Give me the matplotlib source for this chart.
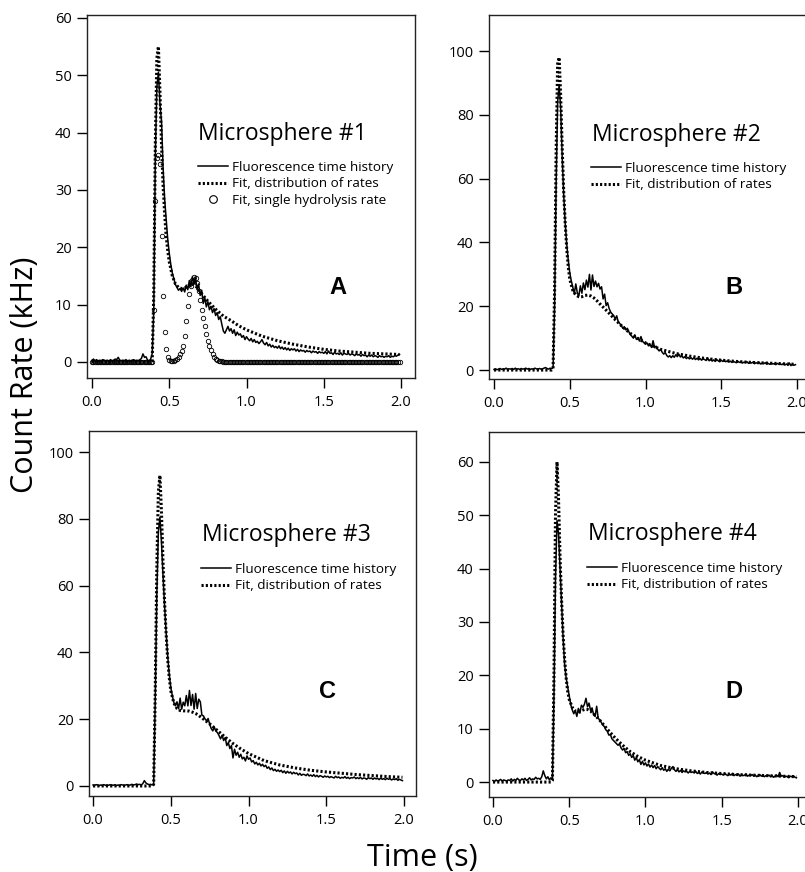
import matplotlib
matplotlib.use("Agg")
import matplotlib.pyplot as plt
from matplotlib.lines import Line2D
import numpy as np

plt.rcParams['font.family'] = ['Open Sans', 'DejaVu Sans']

# measured traces are binned at 10 ms, 0.00 .. 1.99 s
t_step = 0.01
n_samples = 200

# sample times of the fitted curves
fit_t = [0.00, 0.10, 0.20, 0.30, 0.38, 0.39, 0.40, 0.41, 0.42, 0.43, 0.44, 0.45,
         0.46, 0.47, 0.48, 0.49, 0.50, 0.52, 0.54, 0.56, 0.58, 0.60, 0.62, 0.64,
         0.66, 0.68, 0.70, 0.75, 0.80, 0.85, 0.90, 0.95, 1.00, 1.10, 1.20, 1.30,
         1.40, 1.50, 1.60, 1.70, 1.80, 1.90, 1.99]

# ---- Microsphere #1 ----
a_data = [0.3, 0.5, 0.2, 0.4, 0.1, 0.3, 0.2, 0.4, 0.3, 0.2,
          0.3, 0.1, 0.4, 0.2, 0.3, 0.5, 0.4, 0.8, 0.3, 0.2,
          0.3, 0.2, 0.4, 0.1, 0.3, 0.2, 0.3, 0.4, 0.2, 0.3,
          0.2, 0.4, 0.6, 1.4, 0.8, 0.9, 0.3, 0.2, 0.5, 1.5,
          9.0, 36.0, 48.0, 50.5, 45.0, 42.0, 34.0, 28.5, 25.0, 21.5,
          19.0, 17.0, 15.5, 14.5, 13.5, 13.0, 12.5, 12.8, 12.3, 12.9,
          12.2, 13.4, 12.6, 14.2, 13.1, 14.9, 13.6, 14.7, 12.6, 13.6,
          11.6, 12.5, 10.2, 11.2, 9.6, 10.5, 9.1, 9.7, 8.6, 9.3,
          8.1, 8.6, 7.4, 7.9, 6.6, 5.4, 5.0, 5.6, 6.2, 5.4,
          5.8, 5.0, 5.6, 4.6, 5.2, 4.7, 4.9, 4.3, 4.6, 3.9,
          4.4, 4.0, 3.7, 4.1, 3.5, 3.9, 3.4, 3.6, 3.2, 3.5,
          3.9, 3.3, 3.0, 3.4, 2.8, 3.1, 2.6, 2.9, 2.5, 2.7,
          2.4, 2.8, 2.3, 2.6, 2.2, 2.5, 2.1, 2.4, 2.0, 2.3,
          2.1, 2.3, 1.9, 2.2, 1.8, 2.1, 1.9, 2.0, 1.7, 2.0,
          1.8, 1.9, 1.6, 1.9, 1.7, 1.8, 1.5, 1.8, 1.6, 1.7,
          1.5, 1.8, 1.4, 1.9, 1.5, 1.6, 1.3, 1.7, 1.4, 1.5,
          1.3, 1.6, 1.2, 1.5, 1.4, 1.3, 1.5, 1.2, 1.4, 1.3,
          1.1, 1.4, 1.2, 1.3, 1.0, 1.3, 1.1, 1.2, 0.9, 1.2,
          1.0, 1.2, 0.9, 1.1, 1.0, 0.8, 1.1, 0.9, 1.0, 0.8,
          1.0, 0.9, 1.1, 0.8, 1.0, 0.9, 1.1, 1.0, 1.2, 1.3]
a_fit = [0, 0, 0, 0, 0, 0.2, 12, 38, 53, 55, 47, 38,
         31, 26, 22, 19.5, 17.5, 15.0, 13.6, 13.0, 12.8, 12.9, 13.2, 13.5,
         13.5, 13.0, 12.2, 10.6, 9.2, 8.0, 7.2, 6.3, 5.6, 4.5, 3.7, 3.1,
         2.6, 2.2, 1.9, 1.7, 1.5, 1.4, 1.3]
# single hydrolysis rate fit, same 10 ms bins as the data
a_single = ([0.0] * 40 +
            [9.0, 28.0, 35.5, 36.0, 34.6, 22.0, 11.5, 5.2, 2.2, 0.9,
             0.4, 0.2, 0.1, 0.15, 0.3, 0.5, 0.8, 1.3, 1.9, 2.8,
             4.5, 7.2, 9.8, 11.8, 13.2, 14.3, 14.8, 14.6, 13.8, 12.4,
             10.8, 9.0, 7.6, 6.2, 4.8, 3.7, 2.8, 2.0, 1.4, 0.9,
             0.6, 0.4, 0.25, 0.15, 0.1] +
            [0.0] * 115)

# ---- Microsphere #2 ----
b_data = [0.2, 0.4, 0.1, 0.3, 0.5, 0.2, 0.4, 0.3, 0.6, 0.2,
          0.4, 0.3, 0.5, 0.2, 0.6, 0.3, 0.4, 0.2, 0.5, 0.3,
          0.4, 0.6, 0.3, 0.5, 0.2, 0.4, 0.3, 0.6, 0.4, 0.3,
          0.5, 0.3, 0.4, 0.6, 0.8, 0.5, 0.3, 0.6, 0.4, 0.8,
          20.0, 58.0, 84.0, 89.5, 82.0, 67.0, 55.0, 46.0, 39.5, 34.5,
          30.5, 28.0, 26.0, 24.0, 27.0, 24.2, 23.2, 26.4, 24.1, 27.3,
          25.2, 28.2, 26.0, 30.0, 25.1, 29.8, 26.2, 27.9, 26.1, 27.2,
          25.4, 26.1, 22.3, 23.8, 20.2, 21.1, 19.3, 18.2, 17.6, 17.1,
          16.0, 17.0, 15.1, 14.6, 14.0, 13.1, 13.6, 12.6, 13.1, 12.0,
          11.1, 10.6, 10.0, 11.0, 9.6, 10.1, 9.1, 10.5, 9.0, 8.6,
          8.1, 8.5, 7.6, 8.0, 7.1, 9.2, 7.0, 7.5, 6.6, 6.0,
          6.5, 5.6, 5.0, 5.5, 4.6, 4.1, 4.5, 3.9, 4.5, 4.0,
          4.8, 4.2, 5.0, 4.1, 4.4, 3.8, 4.2, 3.6, 4.0, 3.5,
          3.9, 3.4, 3.8, 3.3, 3.7, 3.2, 3.6, 3.1, 3.5, 3.3,
          3.0, 3.8, 2.9, 3.4, 2.8, 3.2, 2.7, 3.3, 2.9, 2.6,
          3.1, 2.7, 3.0, 2.6, 2.9, 2.5, 2.8, 2.4, 2.7, 2.5,
          2.3, 2.7, 2.4, 2.6, 2.2, 2.5, 2.3, 2.6, 2.1, 2.4,
          2.2, 2.5, 2.0, 2.3, 2.1, 2.4, 1.9, 2.2, 2.0, 2.3,
          1.9, 2.1, 1.8, 2.2, 1.9, 2.0, 1.7, 2.1, 1.8, 1.9,
          1.7, 2.0, 1.6, 1.9, 1.5, 2.2, 1.4, 1.8, 1.5, 1.7]
b_fit = [0, 0, 0, 0, 0, 0.5, 25, 68, 96, 98, 86, 70,
         56, 46, 38, 32.5, 28.5, 25.0, 23.5, 23.0, 23.0, 23.4, 23.5, 23.2,
         22.6, 21.7, 20.7, 18.3, 15.8, 13.5, 11.5, 9.9, 8.5, 6.5, 5.2, 4.3,
         3.6, 3.1, 2.7, 2.4, 2.2, 2.0, 1.8]

# ---- Microsphere #3 ----
c_data = [0.3, 0.2, 0.4, 0.3, 0.1, 0.3, 0.2, 0.4, 0.2, 0.3,
          0.2, 0.4, 0.3, 0.2, 0.4, 0.1, 0.3, 0.2, 0.4, 0.3,
          0.2, 0.3, 0.4, 0.2, 0.3, 0.5, 0.3, 0.4, 0.6, 0.4,
          0.5, 0.3, 0.7, 1.6, 0.9, 0.6, 0.4, 0.5, 0.3, 0.6,
          26.0, 57.0, 76.0, 80.5, 73.0, 63.0, 54.0, 46.0, 39.0, 33.5,
          29.5, 27.0, 25.0, 24.0, 25.2, 23.1, 26.3, 23.0, 25.1, 24.0,
          27.1, 24.0, 28.6, 24.1, 27.4, 23.0, 27.7, 23.2, 26.0, 25.2,
          21.2, 21.0, 20.1, 19.5, 20.2, 18.5, 17.2, 16.5, 17.6, 16.4,
          16.0, 15.1, 14.1, 15.2, 13.6, 14.5, 12.1, 13.0, 11.2, 12.1,
          8.4, 11.0, 9.2, 10.1, 8.6, 9.5, 8.1, 8.6, 7.5, 9.0,
          8.0, 8.4, 7.2, 7.6, 6.6, 7.1, 6.3, 6.8, 6.0, 6.5,
          5.8, 6.2, 5.3, 5.7, 4.9, 5.4, 4.6, 5.0, 4.4, 4.8,
          4.3, 4.7, 4.0, 4.5, 3.8, 4.4, 3.9, 4.2, 3.6, 4.1,
          3.7, 3.9, 3.3, 3.8, 3.2, 3.5, 3.4, 3.1, 3.6, 3.0,
          3.3, 2.9, 3.4, 2.8, 3.2, 2.7, 3.1, 2.9, 2.6, 3.0,
          2.7, 2.9, 2.5, 2.8, 2.6, 2.4, 2.9, 2.5, 2.7, 2.3,
          2.6, 2.4, 2.8, 2.3, 2.6, 2.2, 2.5, 2.4, 2.7, 2.2,
          2.5, 2.2, 2.6, 2.1, 2.4, 2.3, 2.0, 2.5, 2.2, 2.4,
          2.0, 2.4, 2.1, 2.3, 1.9, 2.4, 2.0, 2.2, 1.9, 2.3,
          2.0, 2.2, 1.8, 2.1, 1.9, 2.2, 1.7, 2.0, 1.8, 1.6]
c_fit = [0, 0, 0, 0, 0, 0.5, 28, 65, 88, 93, 82, 67,
         55, 45.5, 38, 32.5, 28.5, 24.8, 23.2, 22.6, 22.5, 22.5, 22.4, 22.1,
         21.7, 21.1, 20.4, 18.6, 16.6, 14.6, 12.7, 11.1, 9.7, 7.6, 6.3, 5.4,
         4.7, 4.2, 3.8, 3.4, 3.1, 2.8, 2.6]

# ---- Microsphere #4 ----
d_data = [0.3, 0.1, 0.4, 0.2, 0.3, 0.5, 0.2, 0.4, 0.3, 0.2,
          0.4, 0.3, 0.6, 0.2, 0.5, 0.3, 0.7, 0.4, 0.3, 0.6,
          0.4, 0.7, 0.3, 0.5, 0.8, 0.4, 0.6, 0.5, 0.9, 0.6,
          0.7, 0.5, 1.0, 2.1, 1.2, 0.6, 1.0, 0.4, 0.8, 0.5,
          16.0, 38.0, 49.0, 46.5, 40.0, 33.5, 27.0, 22.0, 19.5, 17.8,
          16.0, 14.5, 13.5, 12.8, 13.4, 12.3, 13.8, 12.9, 14.4, 14.0,
          14.6, 15.7, 14.1, 14.8, 13.4, 13.9, 12.6, 12.3, 14.2, 12.0,
          11.6, 11.2, 10.7, 10.4, 9.8, 9.5, 8.8, 8.9, 8.1, 7.8,
          7.5, 7.2, 6.9, 7.1, 6.4, 6.0, 6.3, 5.5, 5.7, 5.0,
          5.3, 4.6, 5.0, 4.1, 4.6, 3.8, 4.2, 3.3, 3.9, 3.2,
          3.6, 3.0, 3.4, 2.8, 3.2, 2.7, 3.1, 2.5, 2.9, 2.6,
          2.3, 2.7, 2.2, 2.5, 2.0, 2.4, 2.1, 2.6, 2.9, 2.3,
          2.0, 2.3, 1.9, 2.2, 1.8, 2.1, 1.9, 2.0, 1.7, 2.0,
          1.8, 1.9, 1.7, 2.0, 1.6, 1.8, 1.5, 1.9, 1.7, 1.6,
          1.8, 1.5, 1.7, 1.4, 1.9, 1.6, 1.5, 1.3, 1.6, 1.4,
          1.5, 1.3, 1.6, 1.4, 1.2, 1.5, 1.3, 1.6, 1.2, 1.4,
          1.3, 1.5, 1.1, 1.4, 1.2, 1.3, 1.5, 1.1, 1.3, 1.2,
          1.4, 1.1, 1.3, 1.0, 1.2, 1.4, 1.1, 1.3, 1.0, 1.2,
          1.1, 1.3, 1.0, 1.2, 0.9, 1.1, 1.3, 1.0, 1.8, 1.1,
          1.2, 0.9, 1.1, 1.0, 0.8, 1.1, 1.0, 1.2, 0.9, 0.8]
d_fit = [0, 0, 0, 0, 0, 0.3, 20, 50, 60, 53, 42, 34,
         27.5, 23, 19.5, 17, 15.5, 14.0, 13.3, 13.2, 13.4, 13.6, 13.6, 13.3,
         12.8, 12.2, 11.6, 9.9, 8.3, 6.9, 5.7, 4.8, 4.1, 3.1, 2.5, 2.1,
         1.8, 1.6, 1.4, 1.3, 1.2, 1.1, 1.0]

titles = ["Microsphere #1", "Microsphere #2", "Microsphere #3", "Microsphere #4"]
letters = ["A", "B", "C", "D"]
x_ticks = [0.0, 0.5, 1.0, 1.5, 2.0]
y_ticks_small = [0, 10, 20, 30, 40, 50, 60]
y_ticks_big = [0, 20, 40, 60, 80, 100]
lbl_data = "Fluorescence time history"
lbl_fit = "Fit, distribution of rates"
lbl_single = "Fit, single hydrolysis rate"

W, H = 805, 872
fig = plt.figure(figsize=(W / 100, H / 100), dpi=100)


def fx(px):
    return px / W


def fy(py):
    return 1 - py / H


def add_axes_px(left, top, right, bottom):
    return fig.add_axes([fx(left), fy(bottom), (right - left) / W, (bottom - top) / H])


t = np.arange(n_samples) * t_step

# (data, fit, axes box px, xlim, ylim, yticks, title pos, letter pos, legend pos)
panels = [
    (a_data, a_fit, (87, 15, 415, 378), (-0.032, 2.09), (-2.8, 60.5), y_ticks_small,
     (198, 140), (338, 288), (198, 161)),
    (b_data, b_fit, (489, 15, 817, 379), (-0.033, 2.132), (-2.8, 111.3), y_ticks_big,
     (592, 141), (734, 288), (591, 162)),
    (c_data, c_fit, (89, 431, 416, 796), (-0.026, 2.077), (-3.0, 106.3), y_ticks_big,
     (202, 541), (327, 691), (201, 563)),
    (d_data, d_fit, (489, 432, 817, 797), (-0.026, 2.125), (-2.8, 65.6), y_ticks_small,
     (588, 540), (734, 691), (587, 562)),
]

for i, (data, fit, box, xlim, ylim, yticks, tpos, lpos, legpos) in enumerate(panels):
    ax = add_axes_px(*box)
    ax.plot(t, data, color="black", linewidth=1.1, zorder=3)
    ax.plot(fit_t, fit, color="black", linewidth=2.2, dashes=(0.7, 0.7), zorder=2)
    handles = [Line2D([], [], color="black", linewidth=1.1),
               Line2D([], [], color="black", linewidth=2.2, dashes=(0.7, 0.7))]
    labels = [lbl_data, lbl_fit]
    if i == 0:
        ax.plot(t, a_single, linestyle="none", marker="o", markersize=3.2,
                markerfacecolor="none", markeredgecolor="black",
                markeredgewidth=0.6, zorder=4)
        handles.append(Line2D([], [], linestyle="none", marker="o", markersize=5.5,
                              markerfacecolor="none", markeredgecolor="black",
                              markeredgewidth=0.8))
        labels.append(lbl_single)

    ax.set_xlim(*xlim)
    ax.set_ylim(*ylim)
    ax.set_xticks(x_ticks)
    ax.set_xticklabels([f"{v:.1f}" for v in x_ticks])
    ax.set_yticks(yticks)
    ax.tick_params(direction="out", length=7.5, width=1.0, labelsize=10.5,
                   top=False, right=False)
    ax.tick_params(axis="y", pad=3.5)
    ax.tick_params(axis="x", pad=5)
    for s in ax.spines.values():
        s.set_linewidth(1.0)
        s.set_color("#222222")

    fig.text(fx(tpos[0]), fy(tpos[1]), titles[i], fontsize=16.5,
             ha="left", va="baseline")
    fig.text(fx(lpos[0]), fy(lpos[1]), letters[i], fontsize=17, fontweight="bold",
             family=["Liberation Sans", "DejaVu Sans"], ha="center", va="center")
    ax.legend(handles, labels, loc="upper left",
              bbox_to_anchor=(fx(legpos[0]), fy(legpos[1])),
              bbox_transform=fig.transFigure, frameon=False, fontsize=9.7,
              borderpad=0, borderaxespad=0, handlelength=2.2,
              handletextpad=0.3, labelspacing=0.25, numpoints=1)

fig.text(fx(25), fy(375), "Count Rate (kHz)", rotation=90, fontsize=22,
         ha="center", va="center")
fig.text(fx(422), fy(866), "Time (s)", fontsize=22, ha="center", va="baseline")

fig.savefig("out.png", dpi=100)
